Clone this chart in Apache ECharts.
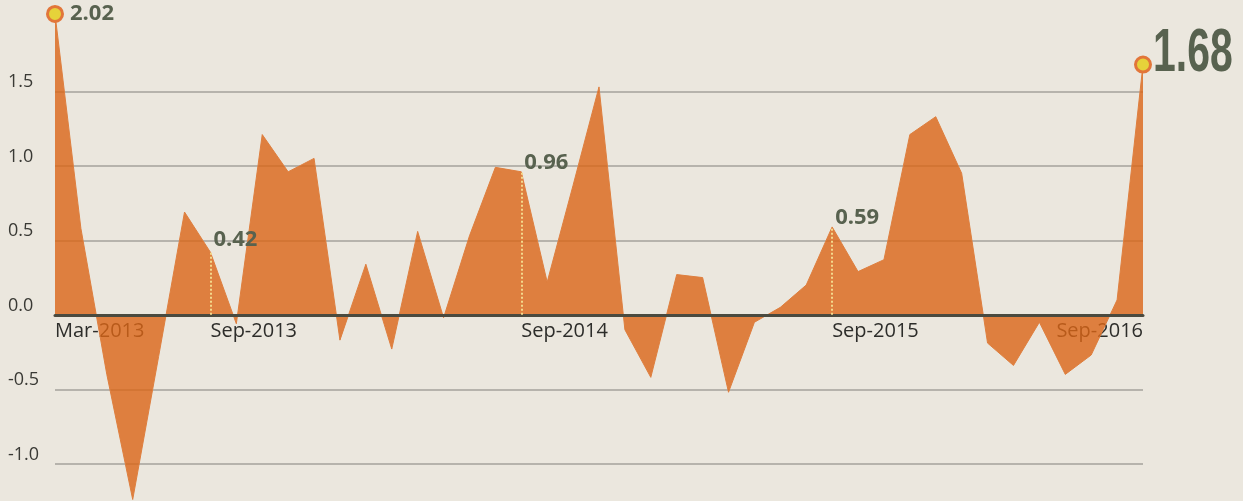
<!DOCTYPE html>
<html>
<head>
<meta charset="utf-8">
<script src="https://cdn.jsdelivr.net/npm/echarts@6/dist/echarts.min.js"></script>
<style>
  html, body { margin: 0; padding: 0; background: #ebe7de; }
  #main { width: 1243px; height: 501px; }
</style>
</head>
<body>
<div id="main"></div>
<script>
var months = [
  'Mar-2013','Apr-2013','May-2013','Jun-2013','Jul-2013','Aug-2013','Sep-2013','Oct-2013','Nov-2013','Dec-2013',
  'Jan-2014','Feb-2014','Mar-2014','Apr-2014','May-2014','Jun-2014','Jul-2014','Aug-2014','Sep-2014','Oct-2014','Nov-2014','Dec-2014',
  'Jan-2015','Feb-2015','Mar-2015','Apr-2015','May-2015','Jun-2015','Jul-2015','Aug-2015','Sep-2015','Oct-2015','Nov-2015','Dec-2015',
  'Jan-2016','Feb-2016','Mar-2016','Apr-2016','May-2016','Jun-2016','Jul-2016','Aug-2016','Sep-2016'
];
var values = [
  2.02, 0.58, -0.40, -1.24, -0.28, 0.69, 0.42, -0.06, 1.21, 0.96,
  1.05, -0.17, 0.34, -0.23, 0.56, -0.02, 0.53, 0.99, 0.96, 0.22, 0.87, 1.53,
  -0.10, -0.42, 0.27, 0.25, -0.52, -0.05, 0.05, 0.20, 0.59, 0.29, 0.37, 1.21,
  1.33, 0.95, -0.19, -0.34, -0.05, -0.40, -0.27, 0.10, 1.68
];
var tickLabels = ['Mar-2013', 'Sep-2013', 'Sep-2014', 'Sep-2015', 'Sep-2016'];
var yTicks = [-1, -0.5, 0, 0.5, 1, 1.5];
var yMin = -1.25, yMax = 2.1;
var markerMonths = ['Mar-2013', 'Sep-2016'];
var calloutMonths = ['Sep-2013', 'Sep-2014', 'Sep-2015'];
var bigLabelMonth = 'Sep-2016';

var orange = '#de7f3f';
var areaOrange = '#db6517'; // drawn at 0.8 opacity so it reads as the orange above
var labelGreen = '#58624f';

// label placement per annotated month
var labelPos = {
  'Mar-2013': { distance: 6, offset: [0, 0] },
  'Sep-2013': { distance: 2, offset: [0, -13] },
  'Sep-2014': { distance: 2, offset: [0, -9] },
  'Sep-2015': { distance: 2, offset: [0, -9] }
};

var seriesData = values.map(function (v, i) {
  var m = months[i];
  var item = { value: v };
  if (markerMonths.indexOf(m) >= 0) {
    item.symbol = 'circle';
    item.symbolSize = 15;
    item.itemStyle = { color: '#e6d23a', borderColor: '#e2763a', borderWidth: 3 };
  } else if (calloutMonths.indexOf(m) >= 0) {
    item.symbol = 'circle';
    item.symbolSize = 2;
    item.itemStyle = { color: 'transparent', borderWidth: 0 };
  }
  var lp = labelPos[m];
  if (lp) {
    item.label = {
      show: true,
      position: 'right',
      distance: lp.distance,
      offset: lp.offset,
      formatter: v.toFixed(2),
      color: labelGreen,
      fontWeight: 'bold',
      fontSize: 22,
      fontFamily: "'Open Sans', sans-serif"
    };
  }
  return item;
});

var markLines = [
  { yAxis: 0, lineStyle: { color: '#4a4a3f', width: 3, type: 'solid' } }
];
calloutMonths.forEach(function (m) {
  var v = values[months.indexOf(m)];
  markLines.push([
    { coord: [m, 0], lineStyle: { color: '#f3d98c', width: 2, type: 'dotted' } },
    { coord: [m, v] }
  ]);
});

var myChart = echarts.init(document.getElementById('main'));

var option = {
  backgroundColor: '#ebe7de',
  animation: false,
  grid: {
    left: 55,
    right: 100,
    top: 2,
    bottom: 0,
    containLabel: false,
    outerBoundsMode: 'none'
  },
  xAxis: {
    type: 'category',
    position: 'bottom',
    boundaryGap: false,
    data: months.map(function (m) {
      if (m === 'Sep-2016') {
        return { value: m, textStyle: { align: 'right' } };
      }
      return m;
    }),
    axisLine: { show: true, onZero: false, lineStyle: { color: '#4a4a3f', width: 3 } },
    axisTick: { show: false },
    splitLine: { show: false },
    axisLabel: {
      interval: function (idx) {
        return tickLabels.indexOf(months[idx]) >= 0;
      },
      align: 'left',
      margin: 6,
      fontSize: 20,
      color: '#2d2d2a',
      fontFamily: "'Open Sans', sans-serif"
    }
  },
  yAxis: {
    type: 'value',
    min: yMin,
    max: yMax,
    axisLine: { show: false },
    axisTick: { show: false, customValues: yTicks },
    splitLine: {
      show: true,
      lineStyle: { color: '#a4a29b', width: 1.5 }
    },
    axisLabel: {
      customValues: yTicks,
      formatter: function (v) { return v.toFixed(1); },
      align: 'left',
      verticalAlign: 'bottom',
      lineHeight: 18,
      margin: 47,
      fontSize: 18,
      color: '#3a3a35',
      fontFamily: "'Open Sans', sans-serif"
    }
  },
  series: [
    {
      type: 'line',
      data: seriesData,
      symbol: 'none',
      showSymbol: true,
      showAllSymbol: true,
      lineStyle: { color: orange, width: 1 },
      areaStyle: { color: areaOrange, opacity: 0.8 },
      z: 2,
      markLine: {
        silent: true,
        symbol: ['none', 'none'],
        label: { show: false },
        data: markLines
      }
    }
  ]
};

myChart.setOption(option);

// lift the category axis (line + labels) from the grid bottom up to the zero line
var zeroY = myChart.convertToPixel({ yAxisIndex: 0 }, 0);
var bottomY = myChart.convertToPixel({ yAxisIndex: 0 }, yMin);

// the big condensed headline number next to the last point
var lastVal = values[months.indexOf(bigLabelMonth)];
var lastPt = myChart.convertToPixel({ seriesIndex: 0 }, [bigLabelMonth, lastVal]);

myChart.setOption({
  xAxis: { offset: -(bottomY - zeroY) },
  graphic: [{
    type: 'text',
    x: lastPt[0] + 10,
    y: lastPt[1] - 11,
    scaleX: 0.66,
    z: 10,
    style: {
      text: lastVal.toFixed(2),
      fill: labelGreen,
      font: "bold 62px 'Liberation Sans', Arial, sans-serif",
      verticalAlign: 'middle',
      align: 'left'
    }
  }]
});
</script>
</body>
</html>
